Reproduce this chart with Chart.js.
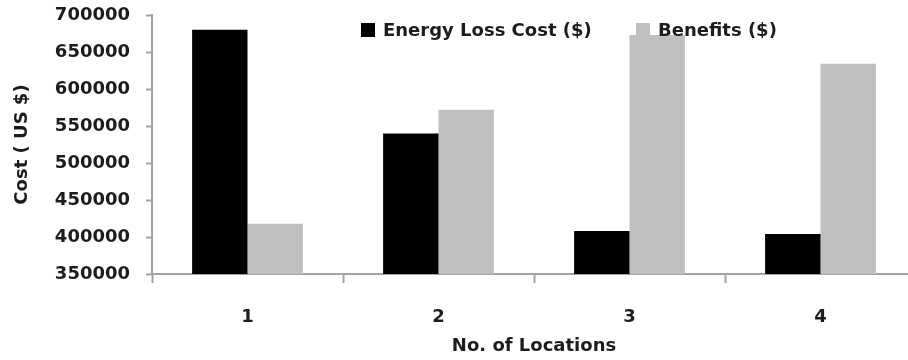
<!DOCTYPE html>
<html>
<head>
<meta charset="utf-8">
<title>Energy Loss Cost and Benefits by Number of Locations</title>
<script src="https://cdn.jsdelivr.net/npm/chart.js@4/dist/chart.umd.min.js"></script>
<style>
  html, body { margin: 0; padding: 0; background: #ffffff; overflow: hidden; }
  #wrap { position: relative; width: 916px; height: 360px; }
</style>
</head>
<body>
<div id="wrap"><canvas id="chart"></canvas></div>
<script>
// Categories and series values
const locations = ['1', '2', '3', '4'];
const energyLossCost = [680000, 540000, 408000, 404000];
const benefits = [418000, 572000, 673000, 634000];

// Y axis range
const yMin = 350000;
const yMax = 700000;
const yStep = 50000;

const FONT = 'DejaVu Sans';
const AXIS_GREY = '#a3a3a3';
const TEXT = '#1c1c1c';

// Legend drawn over the plot area, on top of the bars
const overlayLegend = {
  id: 'overlayLegend',
  afterDatasetsDraw(chart, args, opts) {
    const ctx = chart.ctx;
    ctx.save();
    ctx.font = 'bold 18px "' + FONT + '"';
    ctx.textBaseline = 'middle';
    ctx.textAlign = 'left';
    chart.data.datasets.forEach((ds, i) => {
      const x = opts.positions[i];
      const y = opts.y;
      ctx.fillStyle = ds.backgroundColor;
      ctx.fillRect(x, y - 7, 14, 14);
      ctx.fillStyle = TEXT;
      ctx.fillText(ds.label, x + 22, y + 1);
    });
    ctx.restore();
  }
};

new Chart(document.getElementById('chart'), {
  type: 'bar',
  data: {
    labels: locations,
    datasets: [
      {
        label: 'Energy Loss Cost ($)',
        data: energyLossCost,
        backgroundColor: '#000000',
        categoryPercentage: 0.58,
        barPercentage: 1.0
      },
      {
        label: 'Benefits ($)',
        data: benefits,
        backgroundColor: '#bfbfbf',
        categoryPercentage: 0.58,
        barPercentage: 1.0
      }
    ]
  },
  options: {
    responsive: true,
    maintainAspectRatio: false,
    devicePixelRatio: 1,
    animation: false,
    layout: { padding: { top: 15, left: 0, right: 0, bottom: 0 } },
    plugins: {
      legend: { display: false },
      tooltip: { enabled: false },
      overlayLegend: { positions: [361, 636], y: 30 }
    },
    scales: {
      x: {
        z: 1,
        grid: {
          offset: true,
          drawOnChartArea: false,
          drawTicks: true,
          tickLength: 9,
          tickWidth: 2,
          tickColor: AXIS_GREY
        },
        border: { display: true, color: AXIS_GREY, width: 2 },
        ticks: {
          color: TEXT,
          padding: 24,
          font: { family: FONT, size: 18, weight: 'bold' }
        },
        title: {
          display: true,
          text: 'No. of Locations',
          color: TEXT,
          padding: { top: 0, bottom: 3 },
          font: { family: FONT, size: 18, weight: 'bold' }
        },
        afterFit(scale) {
          scale.height = 86;
          scale.paddingLeft = 0;
          scale.paddingRight = 0;
        }
      },
      y: {
        z: 1,
        min: yMin,
        max: yMax,
        grid: {
          drawOnChartArea: false,
          drawTicks: true,
          tickLength: 6,
          tickWidth: 2,
          tickColor: AXIS_GREY
        },
        border: { display: true, color: AXIS_GREY, width: 2 },
        ticks: {
          stepSize: yStep,
          color: TEXT,
          padding: 16,
          font: { family: FONT, size: 18, weight: 'bold' },
          callback: (v) => String(v)
        },
        title: {
          display: true,
          text: 'Cost ( US $)',
          color: TEXT,
          padding: { top: 12, bottom: 0 },
          font: { family: FONT, size: 18, weight: 'bold' }
        },
        afterFit(scale) {
          scale.width = 152;
          scale.paddingTop = 0;
          scale.paddingBottom = 0;
        }
      }
    }
  },
  plugins: [overlayLegend]
});
</script>
</body>
</html>
